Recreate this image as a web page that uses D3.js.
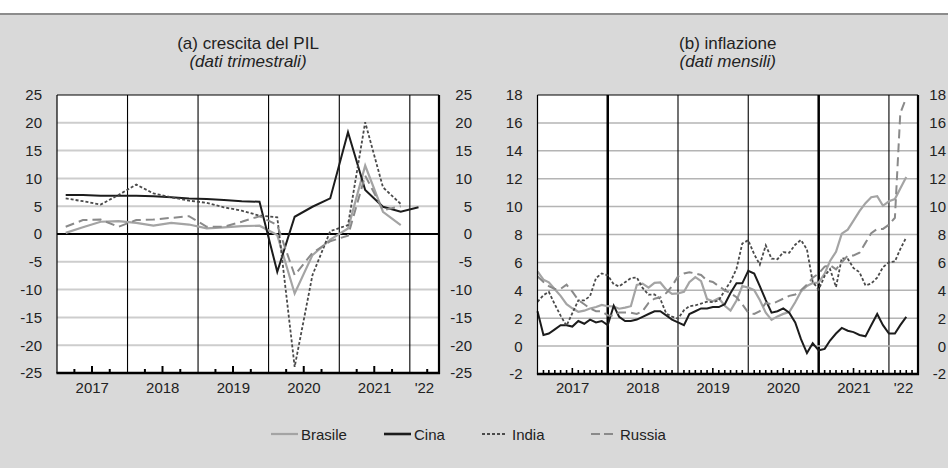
<!DOCTYPE html>
<html><head><meta charset="utf-8">
<script src="https://cdn.jsdelivr.net/npm/d3@7"></script>
<style>
body{margin:0;background:#fff}
svg{display:block}
text{font-family:"Liberation Sans",Arial,Helvetica,sans-serif;fill:#222}
</style>
</head><body>
<svg id="c" width="948" height="468"></svg>
<script>
// ---------------- DATA ----------------
const quarters = ["2017-Q1","2017-Q2","2017-Q3","2017-Q4","2018-Q1","2018-Q2","2018-Q3","2018-Q4",
  "2019-Q1","2019-Q2","2019-Q3","2019-Q4","2020-Q1","2020-Q2","2020-Q3","2020-Q4",
  "2021-Q1","2021-Q2","2021-Q3","2021-Q4","2022-Q1"];
const gdpBrasile = [0.2, 1.2, 2.2, 2.3, 2.0, 1.5, 2.0, 1.7, 1.0, 1.2, 1.4, 1.5, -0.2, -10.7, -3.8, -1.0, 1.0, 12.3, 4.0, 1.6, null];
const gdpCina    = [7.0, 7.0, 6.9, 6.9, 6.9, 6.8, 6.6, 6.4, 6.3, 6.1, 5.9, 5.8, -6.8, 3.1, 4.9, 6.4, 18.3, 7.9, 4.9, 4.0, 4.8];
const gdpIndia   = [6.4, 5.9, 5.3, 7.0, 8.9, 7.3, 6.6, 6.0, 5.6, 4.8, 4.2, 3.3, 3.0, -23.9, -7.4, 0.5, 1.6, 20.1, 8.4, 5.4, null];
const gdpRussia  = [1.3, 2.5, 2.6, 1.3, 2.5, 2.6, 2.9, 3.2, 1.3, 1.3, 2.2, 3.2, 1.6, -7.4, -3.4, -1.3, -0.3, 10.5, 4.3, 5.0, null];

const months = ["2017-01","2017-02","2017-03","2017-04","2017-05","2017-06","2017-07","2017-08","2017-09","2017-10","2017-11","2017-12",
  "2018-01","2018-02","2018-03","2018-04","2018-05","2018-06","2018-07","2018-08","2018-09","2018-10","2018-11","2018-12",
  "2019-01","2019-02","2019-03","2019-04","2019-05","2019-06","2019-07","2019-08","2019-09","2019-10","2019-11","2019-12",
  "2020-01","2020-02","2020-03","2020-04","2020-05","2020-06","2020-07","2020-08","2020-09","2020-10","2020-11","2020-12",
  "2021-01","2021-02","2021-03","2021-04","2021-05","2021-06","2021-07","2021-08","2021-09","2021-10","2021-11","2021-12",
  "2022-01","2022-02","2022-03","2022-04"];
const infBrasile = [5.35,4.76,4.57,4.08,3.60,3.00,2.71,2.46,2.54,2.70,2.80,2.95,
  2.86,2.84,2.68,2.76,2.86,4.39,4.48,4.19,4.53,4.56,4.05,3.75,
  3.78,3.89,4.58,4.94,4.66,3.37,3.22,3.43,2.89,2.54,3.27,4.31,
  4.19,4.01,3.30,2.40,1.88,2.13,2.31,2.44,3.14,3.92,4.31,4.52,
  4.56,5.20,6.10,6.76,8.06,8.35,8.99,9.68,10.25,10.67,10.74,10.06,
  10.38,10.54,11.30,12.13];
const infCina = [2.5,0.8,0.9,1.2,1.5,1.5,1.4,1.8,1.6,1.9,1.7,1.8,
  1.5,2.9,2.1,1.8,1.8,1.9,2.1,2.3,2.5,2.5,2.2,1.9,
  1.7,1.5,2.3,2.5,2.7,2.7,2.8,2.8,3.0,3.8,4.5,4.5,
  5.4,5.2,4.3,3.3,2.4,2.5,2.7,2.4,1.7,0.5,-0.5,0.2,
  -0.3,-0.2,0.4,0.9,1.3,1.1,1.0,0.8,0.7,1.5,2.3,1.5,
  0.9,0.9,1.5,2.1];
const infIndia = [3.17,3.65,3.89,2.99,2.18,1.46,2.36,3.28,3.28,3.58,4.88,5.21,
  5.07,4.44,4.28,4.58,4.87,4.92,4.17,3.69,3.70,3.38,2.33,2.11,
  1.97,2.57,2.86,2.92,3.05,3.18,3.15,3.28,3.99,4.62,5.54,7.35,
  7.59,6.58,5.84,7.22,6.27,6.23,6.73,6.69,7.27,7.61,6.93,4.59,
  4.06,5.03,5.52,4.23,6.30,6.26,5.59,5.30,4.35,4.48,4.91,5.66,
  6.01,6.07,6.95,7.79];
const infRussia = [5.0,4.6,4.3,4.1,4.1,4.4,3.9,3.3,3.0,2.7,2.5,2.5,
  2.2,2.2,2.4,2.4,2.4,2.3,2.5,3.1,3.4,3.5,3.8,4.3,
  5.0,5.2,5.3,5.2,5.1,4.7,4.6,4.3,4.0,3.8,3.5,3.0,
  2.4,2.3,2.5,3.1,3.0,3.2,3.4,3.6,3.7,4.0,4.4,4.9,
  5.2,5.7,5.8,5.5,6.0,6.5,6.5,6.7,7.4,8.1,8.4,8.4,
  8.7,9.2,16.7,17.8];

const seriesNames = ["Brasile","Cina","India","Russia"];
const gdpTicks = [25,20,15,10,5,0,-5,-10,-15,-20,-25];
const infTicks = [18,16,14,12,10,8,6,4,2,0,-2];
const yearLabels = ["2017","2018","2019","2020","2021","'22"];

// ---------------- STYLE / LAYOUT ----------------
const styles = {
  Brasile:{color:"#a4a4a4", width:2.2, dash:null},
  Cina:{color:"#1c1c1c", width:2, dash:null},
  India:{color:"#4a4a4a", width:1.8, dash:"3,2"},
  Russia:{color:"#8a8a8a", width:2, dash:"9,5"}
};
const svg = d3.select("#c");
const W = 948, H = 468;
svg.append("rect").attr("x",0).attr("y",0).attr("width",W).attr("height",H).attr("fill","#fff");
svg.append("rect").attr("x",0).attr("y",14).attr("width",W).attr("height",H-14).attr("fill","#d9d9d9");
svg.append("line").attr("x1",0).attr("x2",W).attr("y1",14).attr("y2",14).attr("stroke","#8c8c8c").attr("stroke-width",2);

const t0 = new Date(2017,0,1), t1 = new Date(2022,5,1);
const parseQ = s => new Date(+s.slice(0,4), (+s.slice(6)-1)*3+1, 15);
const parseM = s => new Date(+s.slice(0,4), +s.slice(5,7)-1, 1);

function panel(cfg){
  const g = svg.append("g");
  const x = d3.scaleTime().domain([t0,t1]).range([cfg.x0,cfg.x1]);
  const y = d3.scaleLinear().domain(cfg.ydom).range([cfg.y1,cfg.y0]);
  // title
  g.append("text").attr("x",(cfg.x0+cfg.x1)/2).attr("y",49).attr("text-anchor","middle")
    .style("font-size","17px").text(cfg.title);
  g.append("text").attr("x",(cfg.x0+cfg.x1)/2).attr("y",67).attr("text-anchor","middle")
    .style("font-size","17px").style("font-style","italic").text(cfg.sub);
  // plot bg
  g.append("rect").attr("x",cfg.x0).attr("y",cfg.y0).attr("width",cfg.x1-cfg.x0).attr("height",cfg.y1-cfg.y0).attr("fill","#fff");
  // grid
  g.selectAll(".grid").data(cfg.ticks.filter(v=>v!==cfg.ydom[0]&&v!==cfg.ydom[1]&&v!==0)).enter().append("line")
    .attr("x1",cfg.x0).attr("x2",cfg.x1).attr("y1",d=>y(d)).attr("y2",d=>y(d))
    .attr("stroke",cfg.gridColor).attr("stroke-width",cfg.gridWidth);
  // year separators
  const yrs = d3.timeYear.range(new Date(2018,0,1), t1);
  g.selectAll(".yr").data(yrs).enter().append("line")
    .attr("x1",d=>x(d)).attr("x2",d=>x(d)).attr("y1",cfg.y0).attr("y2",cfg.y1)
    .attr("stroke","#000").attr("stroke-width",d=>cfg.thickYears.includes(d.getFullYear())?2.5:1.1);
  // zero line
  if (cfg.zeroBlack) g.append("line").attr("x1",cfg.x0).attr("x2",cfg.x1).attr("y1",y(0)).attr("y2",y(0))
    .attr("stroke","#000").attr("stroke-width",2);
  else g.append("line").attr("x1",cfg.x0).attr("x2",cfg.x1).attr("y1",y(0)).attr("y2",y(0))
    .attr("stroke",cfg.gridColor).attr("stroke-width",cfg.gridWidth);
  // series
  seriesNames.forEach((name,i)=>{
    const st = styles[name];
    const data = cfg.dates.map((d,j)=>({date:d, v:cfg.values[i][j]}));
    const line = d3.line().defined(d=>d.v!==null&&d.v!==undefined).x(d=>x(d.date)).y(d=>y(d.v));
    g.append("path").datum(data).attr("d",line).attr("fill","none")
      .attr("stroke",st.color).attr("stroke-width",st.width).attr("stroke-dasharray",st.dash)
      .attr("stroke-linejoin","miter");
  });
  // frame
  g.append("line").attr("x1",cfg.x0).attr("x2",cfg.x1).attr("y1",cfg.y0).attr("y2",cfg.y0).attr("stroke","#000").attr("stroke-width",1.2);
  g.append("line").attr("x1",cfg.x0).attr("x2",cfg.x0).attr("y1",cfg.y0).attr("y2",cfg.y1).attr("stroke","#000").attr("stroke-width",1.2);
  g.append("line").attr("x1",cfg.x1).attr("x2",cfg.x1).attr("y1",cfg.y0).attr("y2",cfg.y1+1).attr("stroke","#000").attr("stroke-width",2.2);
  g.append("line").attr("x1",cfg.x0-0.6).attr("x2",cfg.x1+1).attr("y1",cfg.y1).attr("y2",cfg.y1).attr("stroke","#000").attr("stroke-width",2.4);
  // inner ticks
  const tk = cfg.tickInterval.range(t0,t1).filter(d=>d.getMonth()!==0);
  g.selectAll(".tk").data(tk).enter().append("line")
    .attr("x1",d=>x(d)).attr("x2",d=>x(d)).attr("y1",cfg.y1)
    .attr("y2",d=>cfg.y1-(d.getMonth()===6?cfg.tickLong:cfg.tickShort))
    .attr("stroke","#000").attr("stroke-width",cfg.tickWidth);
  // year labels
  const ymid = yearLabels.map((lab,k)=>{
    const a = new Date(2017+k,0,1);
    const b = k<5 ? new Date(2018+k,0,1) : t1;
    return {lab, xm:(x(a)+x(b))/2};
  });
  g.selectAll(".yl").data(ymid).enter().append("text")
    .attr("x",d=>d.xm).attr("y",393).attr("text-anchor","middle").style("font-size","15px").text(d=>d.lab);
  // y labels
  g.selectAll(".yL").data(cfg.ticks).enter().append("text")
    .attr("x",cfg.x0-15).attr("y",d=>y(d)).attr("dy","0.36em").attr("text-anchor","end").style("font-size","15px").text(d=>d);
  g.selectAll(".yR").data(cfg.ticks).enter().append("text")
    .attr("x",cfg.rightLabelX).attr("y",d=>y(d)).attr("dy","0.36em").attr("text-anchor","end").style("font-size","15px").text(d=>d);
}

panel({x0:57,x1:439,y0:95,y1:373,ydom:[-25,25],ticks:gdpTicks,rightLabelX:472,
  title:"(a) crescita del PIL",sub:"(dati trimestrali)",
  dates:quarters.map(parseQ),values:[gdpBrasile,gdpCina,gdpIndia,gdpRussia],
  gridColor:"#cdcdcd",gridWidth:2,thickYears:[],zeroBlack:true,
  tickInterval:d3.timeMonth.every(3),tickShort:4,tickLong:7,tickWidth:2});

panel({x0:537.5,x1:918,y0:95,y1:374,ydom:[-2,18],ticks:infTicks,rightLabelX:946,
  title:"(b) inflazione",sub:"(dati mensili)",
  dates:months.map(parseM),values:[infBrasile,infCina,infIndia,infRussia],
  gridColor:"#b4b4b4",gridWidth:1.5,thickYears:[2018,2021],zeroBlack:false,
  tickInterval:d3.timeMonth,tickShort:4,tickLong:6,tickWidth:1.6});

// legend
const lg = svg.append("g");
const legendX = {Brasile:271, Cina:384, India:482, Russia:591};
const legendLen = {Brasile:27, Cina:27, India:24, Russia:22};
seriesNames.forEach(name=>{
  const st = styles[name], lx = legendX[name], ll = legendLen[name];
  lg.append("line").attr("x1",lx).attr("x2",lx+ll).attr("y1",434).attr("y2",434)
    .attr("stroke",st.color).attr("stroke-width",name==="Cina"?2.6:st.width)
    .attr("stroke-dasharray",name==="Russia"?"9,4":st.dash);
  lg.append("text").attr("x",lx+ll+(name==="India"?6:(name==="Russia"?7:3))).attr("y",439.5)
    .style("font-size","15px").text(name);
});
</script>
</body></html>
